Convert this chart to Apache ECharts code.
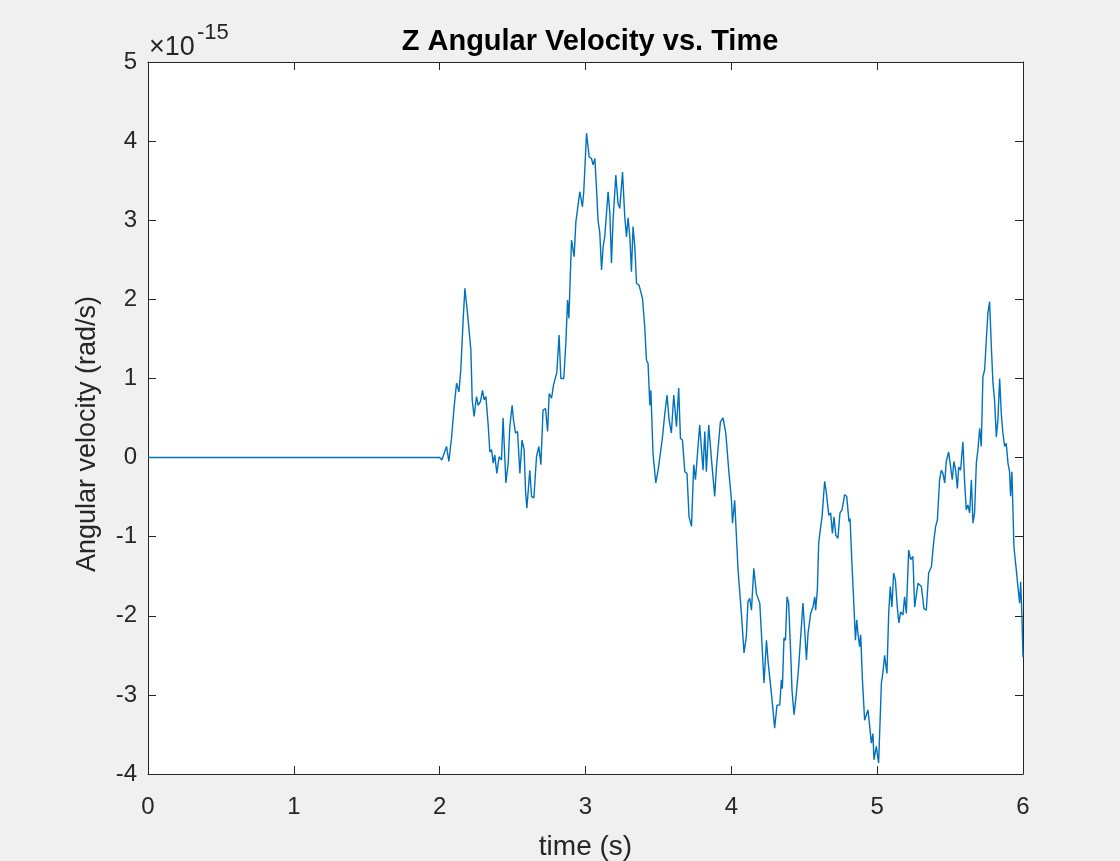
<!DOCTYPE html>
<html>
<head>
<meta charset="utf-8">
<script src="https://cdn.jsdelivr.net/npm/echarts@6/dist/echarts.min.js"></script>
<style>
  html, body { margin: 0; padding: 0; background: #f0f0f0; }
  #chart { width: 1120px; height: 861px; }
</style>
</head>
<body>
<div id="chart"></div>
<script>
// Time samples (s)
const times = [
  0, 2.000, 2.015, 2.047, 2.063, 2.082, 2.099, 2.116, 2.132, 2.145, 2.161, 2.173, 2.191, 2.200,
  2.214, 2.223, 2.236, 2.253, 2.264, 2.280, 2.294, 2.305, 2.317, 2.332, 2.344, 2.356, 2.367,
  2.378, 2.392, 2.408, 2.424, 2.435, 2.454, 2.470, 2.481, 2.497, 2.506, 2.520, 2.534, 2.550,
  2.565, 2.579, 2.589, 2.598, 2.618, 2.630, 2.646, 2.664, 2.680, 2.694, 2.709, 2.726, 2.740,
  2.751, 2.767, 2.781, 2.794, 2.803, 2.819, 2.831, 2.851, 2.865, 2.877, 2.886, 2.904, 2.922,
  2.934, 2.945, 2.961, 2.979, 2.988, 3.007, 3.025, 3.041, 3.052, 3.064, 3.075, 3.086, 3.098,
  3.110, 3.121, 3.132, 3.155, 3.167, 3.178, 3.189, 3.208, 3.223, 3.235, 3.254, 3.269, 3.281,
  3.292, 3.304, 3.315, 3.326, 3.338, 3.350, 3.367, 3.391, 3.406, 3.418, 3.429, 3.441, 3.448,
  3.463, 3.482, 3.498, 3.509, 3.528, 3.544, 3.559, 3.573, 3.589, 3.605, 3.624, 3.639, 3.651,
  3.665, 3.681, 3.696, 3.710, 3.727, 3.742, 3.754, 3.765, 3.783, 3.795, 3.806, 3.818, 3.829,
  3.845, 3.864, 3.875, 3.886, 3.898, 3.909, 3.925, 3.943, 3.962, 3.984, 4.001, 4.008, 4.023,
  4.035, 4.046, 4.056, 4.069, 4.087, 4.103, 4.114, 4.126, 4.138, 4.154, 4.172, 4.195, 4.210,
  4.224, 4.241, 4.252, 4.263, 4.279, 4.297, 4.313, 4.332, 4.343, 4.350, 4.361, 4.371, 4.382,
  4.393, 4.407, 4.416, 4.430, 4.446, 4.462, 4.474, 4.491, 4.503, 4.515, 4.526, 4.544, 4.560,
  4.572, 4.578, 4.590, 4.599, 4.613, 4.622, 4.640, 4.652, 4.668, 4.681, 4.693, 4.704, 4.716,
  4.731, 4.745, 4.759, 4.777, 4.791, 4.807, 4.814, 4.827, 4.841, 4.851, 4.860, 4.868, 4.880,
  4.887, 4.899, 4.914, 4.926, 4.937, 4.949, 4.960, 4.971, 4.978, 4.994, 5.010, 5.029, 5.040,
  5.051, 5.067, 5.079, 5.090, 5.101, 5.113, 5.125, 5.138, 5.149, 5.161, 5.177, 5.188, 5.200,
  5.216, 5.230, 5.245, 5.257, 5.269, 5.280, 5.291, 5.303, 5.321, 5.337, 5.353, 5.372, 5.389,
  5.401, 5.413, 5.428, 5.440, 5.451, 5.463, 5.474, 5.490, 5.504, 5.515, 5.526, 5.538, 5.550,
  5.559, 5.572, 5.588, 5.600, 5.611, 5.622, 5.634, 5.646, 5.657, 5.668, 5.680, 5.691, 5.703,
  5.714, 5.725, 5.737, 5.748, 5.759, 5.771, 5.783, 5.794, 5.805, 5.817, 5.828, 5.840, 5.851,
  5.862, 5.874, 5.885, 5.897, 5.908, 5.915, 5.924, 5.938, 5.954, 5.965, 5.977, 5.984, 5.992,
  6.000
];

// Z angular velocity (×1e-15 rad/s)
const omegaZ = [
  0, 0, -0.03, 0.14, -0.05, 0.26, 0.64, 0.94, 0.83, 1.11, 1.74, 2.14, 1.82, 1.64,
  1.36, 0.73, 0.52, 0.77, 0.66, 0.71, 0.85, 0.73, 0.77, 0.43, 0.07, 0.10, -0.07,
  0.03, -0.20, 0.01, -0.03, 0.50, -0.32, -0.07, 0.39, 0.66, 0.48, 0.31, 0.33, -0.20,
  0.22, 0.10, -0.43, -0.64, -0.16, -0.49, -0.51, 0.01, 0.14, -0.09, 0.60, 0.62, 0.33,
  0.81, 0.75, 0.92, 0.94, 1.07, 1.55, 1.00, 1.00, 1.44, 1.99, 1.76, 2.75, 2.54,
  2.98, 2.98, 3.36, 3.17, 3.36, 4.10, 3.80, 3.78, 3.70, 3.78, 3.42, 3.00, 2.84,
  2.37, 2.67, 2.79, 3.36, 3.09, 2.46, 3.00, 3.57, 3.21, 3.15, 3.61, 3.05, 2.79,
  3.03, 2.79, 2.35, 2.92, 2.67, 2.20, 2.18, 2.01, 1.65, 1.23, 1.19, 0.66, 0.85,
  0.05, -0.32, -0.16, -0.14, 0.26, 0.56, 0.79, 0.48, 0.31, 0.79, 0.39, 0.88, 0.24,
  0.22, -0.18, -0.20, -0.75, -0.87, -0.09, -0.28, -0.26, 0.41, 0.41, -0.16, 0.33, -0.18,
  0.41, -0.03, -0.05, -0.49, -0.12, -0.12, 0.45, 0.50, 0.31, -0.20, -0.54, -0.83, -0.54,
  -1.00, -1.42, -1.44, -1.97, -2.47, -2.26, -1.82, -1.78, -1.93, -1.40, -1.72, -1.84, -2.35,
  -2.85, -2.31, -2.58, -2.56, -3.06, -3.42, -3.13, -3.13, -2.81, -2.92, -2.28, -2.31, -1.76,
  -1.84, -2.47, -2.94, -3.25, -2.98, -2.64, -2.64, -1.84, -2.18, -2.56, -2.22, -1.97, -1.89,
  -1.76, -1.93, -1.67, -1.08, -0.87, -0.75, -0.30, -0.45, -0.73, -0.70, -0.96, -0.75, -0.98,
  -1.02, -0.70, -0.66, -0.47, -0.49, -0.81, -0.77, -1.34, -1.89, -2.31, -2.05, -2.22, -2.39,
  -2.24, -2.81, -3.32, -3.32, -3.19, -3.40, -3.61, -3.49, -3.82, -3.65, -3.86, -2.85, -2.71,
  -2.50, -2.73, -1.97, -1.63, -1.89, -1.46, -1.55, -1.89, -2.09, -1.95, -1.99, -1.76, -1.97,
  -1.17, -1.29, -1.25, -1.89, -1.91, -1.59, -1.57, -1.63, -1.91, -1.93, -1.46, -1.38, -1.04,
  -0.87, -0.79, -0.28, -0.16, -0.20, -0.32, -0.05, 0.07, -0.12, -0.28, -0.05, -0.16, -0.39,
  -0.12, -0.16, 0.20, -0.32, -0.66, -0.60, -0.70, -0.28, -0.83, -0.70, -0.07, 0.10, 0.37,
  0.14, 1.02, 1.11, 1.47, 1.82, 1.97, 1.40, 0.94, 0.73, 0.26, 0.48, 1.00, 0.56,
  0.31, 0.14, 0.18, -0.07, -0.18, -0.49, -0.18, -1.13, -1.42, -1.63, -1.84, -1.57, -1.97,
  -2.52
];

const xTicks = { min: 0, max: 6, step: 1 };
const yTicks = { min: -4, max: 5, step: 1 };

const points = times.map((t, i) => [t, omegaZ[i]]);

const ink = '#262626';
const font = 'Liberation Sans, Arial, Helvetica, sans-serif';

const chart = echarts.init(document.getElementById('chart'), null, { renderer: 'canvas' });

// Box-style axes: dark frame on all four sides, ticks pointing inward
function frameAxis() {
  return {
    axisLine: { show: true, onZero: false, lineStyle: { color: ink, width: 1 } },
    axisTick: { show: true, inside: true, length: 8, lineStyle: { color: ink, width: 1 } },
    splitLine: { show: false }
  };
}

chart.setOption({
  backgroundColor: '#f0f0f0',
  animation: false,
  title: {
    text: 'Z Angular Velocity vs. Time',
    left: 585,
    textAlign: 'center',
    top: 22,
    textStyle: { fontFamily: font, fontSize: 29, fontWeight: 'bold', color: '#000' }
  },
  grid: {
    left: 148, right: 97, top: 62, bottom: 87,
    show: true, backgroundColor: '#ffffff', borderWidth: 0,
    containLabel: false,
    outerBoundsMode: 'none'
  },
  xAxis: [
    Object.assign(frameAxis(), {
      type: 'value', position: 'bottom',
      min: xTicks.min, max: xTicks.max, interval: xTicks.step,
      name: 'time (s)', nameLocation: 'middle', nameGap: 59,
      nameTextStyle: { fontFamily: font, fontSize: 28, color: ink },
      axisLabel: { fontFamily: font, fontSize: 24, color: ink, margin: 21 }
    }),
    Object.assign(frameAxis(), {
      type: 'value', position: 'top',
      min: xTicks.min, max: xTicks.max, interval: xTicks.step,
      axisLabel: { show: false }
    })
  ],
  yAxis: [
    Object.assign(frameAxis(), {
      type: 'value', position: 'left',
      min: yTicks.min, max: yTicks.max, interval: yTicks.step,
      axisLabel: { fontFamily: font, fontSize: 24, color: ink, margin: 11 }
    }),
    Object.assign(frameAxis(), {
      type: 'value', position: 'right',
      min: yTicks.min, max: yTicks.max, interval: yTicks.step,
      axisLabel: { show: false }
    })
  ],
  graphic: [
    {
      // vertical axis title, rotated to read bottom-to-top
      type: 'text', x: 88, y: 434, rotation: Math.PI / 2,
      style: {
        text: 'Angular velocity (rad/s)', fontFamily: font, fontSize: 27, fill: ink,
        align: 'center', verticalAlign: 'middle'
      }
    },
    {
      type: 'text', left: 149, top: 34,
      style: { text: '×10', fontFamily: font, fontSize: 27, fill: ink }
    },
    {
      type: 'text', left: 197, top: 22,
      style: { text: '-15', fontFamily: font, fontSize: 22, fill: ink }
    }
  ],
  series: [{
    type: 'line',
    data: points,
    showSymbol: false,
    symbol: 'none',
    lineStyle: { color: '#0072BD', width: 1.4 },
    xAxisIndex: 0,
    yAxisIndex: 0
  }]
});
</script>
</body>
</html>
